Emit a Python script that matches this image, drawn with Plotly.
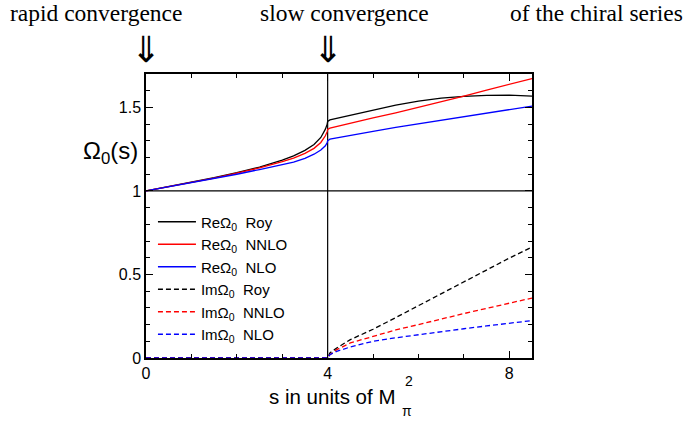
import plotly.graph_objects as go

# ---- data ----
s_vals = [0, 0.5, 1, 1.5, 2, 2.5, 3, 3.25, 3.5, 3.7, 3.85, 3.95, 3.99, 4.0,
          4.05, 4.2, 4.5, 5, 5.5, 6, 6.5, 7, 7.5, 8, 8.5]

re_roy = [1.000, 1.025, 1.051, 1.079, 1.109, 1.143, 1.185, 1.210, 1.243, 1.278, 1.320, 1.370, 1.400, 1.416,
          1.425, 1.434, 1.455, 1.485, 1.514, 1.537, 1.555, 1.566, 1.572, 1.573, 1.567]
re_nnlo = [1.000, 1.025, 1.050, 1.077, 1.106, 1.138, 1.175, 1.197, 1.225, 1.255, 1.290, 1.330, 1.355, 1.368,
           1.376, 1.386, 1.405, 1.437, 1.468, 1.500, 1.533, 1.568, 1.603, 1.638, 1.673]
re_nlo = [1.000, 1.024, 1.048, 1.073, 1.100, 1.128, 1.155, 1.172, 1.195, 1.220, 1.245, 1.270, 1.290, 1.300,
          1.310, 1.318, 1.332, 1.356, 1.380, 1.402, 1.424, 1.445, 1.467, 1.488, 1.508]

im_roy = [0, 0, 0, 0, 0, 0, 0, 0, 0, 0, 0, 0, 0, 0,
          0.030, 0.060, 0.110, 0.172, 0.242, 0.313, 0.386, 0.459, 0.529, 0.598, 0.664]
im_nnlo = [0, 0, 0, 0, 0, 0, 0, 0, 0, 0, 0, 0, 0, 0,
           0.020, 0.050, 0.090, 0.130, 0.168, 0.200, 0.235, 0.266, 0.297, 0.328, 0.359]
im_nlo = [0, 0, 0, 0, 0, 0, 0, 0, 0, 0, 0, 0, 0, 0,
          0.020, 0.040, 0.066, 0.100, 0.121, 0.140, 0.158, 0.175, 0.192, 0.208, 0.224]

x_ticks = [0, 4, 8]
y_ticks = [0, 0.5, 1, 1.5]
y_tick_text = ["0", "0.5", "1", "1.5"]
threshold = 4
unit_level = 1

labels = ["Re\u03a9<sub>0</sub>\u00a0\u00a0Roy", "Re\u03a9<sub>0</sub>\u00a0\u00a0NNLO", "Re\u03a9<sub>0</sub>\u00a0\u00a0NLO",
          "Im\u03a9<sub>0</sub>\u00a0\u00a0Roy", "Im\u03a9<sub>0</sub>\u00a0\u00a0NNLO", "Im\u03a9<sub>0</sub>\u00a0\u00a0NLO"]
series = [re_roy, re_nnlo, re_nlo, im_roy, im_nnlo, im_nlo]
colors = ["#000000", "#ff0000", "#0000ff", "#000000", "#ff0000", "#0000ff"]
dashes = ["solid", "solid", "solid", "5px,3px", "5px,3px", "5px,3px"]

W, H = 687, 421
ML, MR, MT, MB = 146, 155, 74, 63

fig = go.Figure()
for lab, ys, c, d in zip(labels, series, colors, dashes):
    fig.add_trace(go.Scatter(x=s_vals, y=ys, mode="lines", name=lab,
                             line=dict(color=c, width=1.3, dash=d)))

# reference lines
fig.add_shape(type="line", xref="x", yref="paper", x0=threshold, x1=threshold, y0=0, y1=1,
              line=dict(color="black", width=1.2), layer="below")
fig.add_shape(type="line", xref="paper", yref="y", x0=0, x1=1, y0=unit_level, y1=unit_level,
              line=dict(color="black", width=1.2), layer="below")

axis_font = dict(family="Liberation Sans, Arial, sans-serif", size=16, color="black")
fig.update_xaxes(range=[0, 8.5], tickvals=x_ticks, ticks="inside", ticklen=7, tickwidth=1,
                 tickcolor="black", showline=True, linecolor="black", linewidth=1.5, mirror="allticks",
                 showgrid=False, zeroline=False, tickfont=axis_font,
                 minor=dict(dtick=1, ticks="inside", ticklen=4, tickcolor="black", showgrid=False))
fig.update_yaxes(range=[0, 1.7], tickvals=y_ticks, ticktext=y_tick_text, ticks="inside", ticklen=7,
                 tickwidth=1, tickcolor="black", showline=True, linecolor="black", linewidth=1.5,
                 mirror="allticks", showgrid=False, zeroline=False, tickfont=axis_font,
                 minor=dict(dtick=0.1, ticks="inside", ticklen=4, tickcolor="black", showgrid=False))

serif = dict(family="Liberation Serif, Times New Roman, serif", size=23.5, color="black")
arrow_font = dict(family="DejaVu Sans, sans-serif", size=36, color="black")
sans = "Liberation Sans, Arial, sans-serif"
anns = [
    dict(text="rapid convergence", x=96, y=13, font=serif),
    dict(text="slow convergence", x=344, y=13, font=serif),
    dict(text="of the chiral series", x=596, y=13, font=serif),
    dict(text="\u21d3", x=146, y=50, font=arrow_font),
    dict(text="\u21d3", x=328, y=50, font=arrow_font),
    dict(text="\u03a9<sub>0</sub>(s)", x=110, y=152, font=dict(family=sans, size=24, color="black")),
    dict(text="s in units of M", x=332, y=396, font=dict(family=sans, size=20.5, color="black")),
    dict(text="2", x=409, y=381, font=dict(family=sans, size=14, color="black")),
    dict(text="\u03c0", x=407, y=411, font=dict(family=sans, size=14, color="black")),
]
pw, ph = W - ML - MR, H - MT - MB
for a in anns:
    fig.add_annotation(text=a["text"], x=(a["x"] - ML) / pw, y=(H - MB - a["y"]) / ph,
                       xref="paper", yref="paper", showarrow=False, font=a["font"],
                       xanchor="center", yanchor="middle")

fig.update_layout(
    width=W, height=H,
    margin=dict(l=ML, r=MR, t=MT, b=MB, autoexpand=False),
    paper_bgcolor="white", plot_bgcolor="white",
    showlegend=True,
    legend=dict(x=0.018, y=0.537, xanchor="left", yanchor="top", bgcolor="rgba(0,0,0,0)",
                font=dict(family=sans, size=15, color="black"),
                tracegroupgap=0, itemwidth=38),
)

fig.write_html("out.html", config={"displayModeBar": False},
               post_script="document.body.style.margin='0px';")
